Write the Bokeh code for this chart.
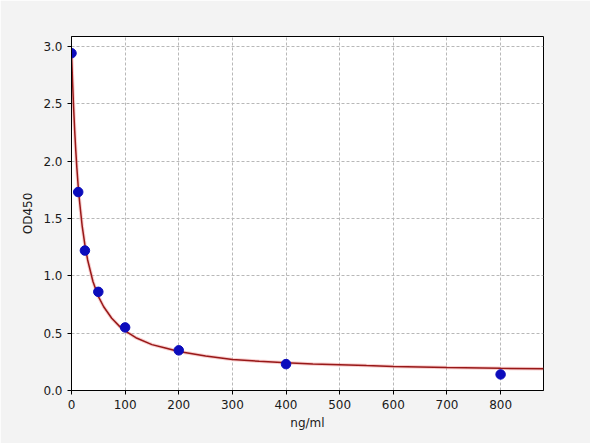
from bokeh.plotting import figure
from bokeh.embed import file_html
from bokeh.resources import INLINE
from bokeh.models import FixedTicker, NumeralTickFormatter, Range1d

# Standard points (concentration ng/ml, OD450)
conc = [0, 12.5, 25, 50, 100, 200, 400, 800]
od = [2.94, 1.73, 1.22, 0.86, 0.55, 0.35, 0.23, 0.14]

# Fitted curve
curve_x = [0, 1, 2, 4, 6, 8, 10, 12.5, 15, 20, 25, 30, 40, 50, 60, 75, 90, 100,
           120, 150, 175, 200, 250, 300, 350, 400, 450, 500, 550, 600, 700, 800, 880]
curve_y = [2.94, 2.82, 2.69, 2.46, 2.26, 2.09, 1.94, 1.78, 1.65, 1.43, 1.27, 1.14, 0.95, 0.82,
           0.73, 0.63, 0.557, 0.52, 0.46, 0.40, 0.37, 0.34, 0.30, 0.27, 0.255, 0.242, 0.232,
           0.225, 0.217, 0.21, 0.20, 0.193, 0.19]

x_ticks = [0, 100, 200, 300, 400, 500, 600, 700, 800]
y_ticks = [0.0, 0.5, 1.0, 1.5, 2.0, 2.5, 3.0]

BG = "#f3f3f3"
FONT = "DejaVu Sans"

p = figure(width=590, height=443, output_backend="svg", toolbar_location=None,
           x_range=Range1d(0, 880), y_range=Range1d(0, 3.086),
           min_border_left=71, min_border_right=47, min_border_top=36, min_border_bottom=53)
p.background_fill_color = "white"
p.border_fill_color = BG
p.outline_line_color = "black"
p.outline_line_width = 1

for ax in (p.xaxis[0], p.yaxis[0]):
    ax.axis_line_color = "black"
    ax.major_tick_line_color = "black"
    ax.major_tick_out = 4
    ax.major_tick_in = 0
    ax.minor_tick_line_color = None
    ax.major_label_text_font = FONT
    ax.major_label_text_font_size = "12px"
    ax.major_label_text_color = "#1a1a1a"
    ax.axis_label_text_font = FONT
    ax.axis_label_text_font_size = "12px"
    ax.axis_label_text_font_style = "normal"
    ax.axis_label_text_color = "#1a1a1a"

p.xaxis.ticker = FixedTicker(ticks=x_ticks)
p.yaxis.ticker = FixedTicker(ticks=y_ticks)
p.yaxis.formatter = NumeralTickFormatter(format="0.0")
p.xaxis.axis_label = "ng/ml"
p.yaxis.axis_label = "OD450"
p.xaxis.axis_label_standoff = 4
p.yaxis.axis_label_standoff = 5

p.grid.grid_line_color = "#b8b8b8"
p.grid.grid_line_dash = "3 2"
p.grid.grid_line_width = 1

p.line(curve_x, curve_y, line_color="#ee8888", line_width=3.5, line_alpha=0.4)
p.line(curve_x, curve_y, line_color="#981818", line_width=1.5)
p.scatter(conc, od, size=9.5, fill_color="#0c0cbc", line_color="#0c0cbc")

html = file_html(p, INLINE)
html = html.replace("<body>", '<body style="background:%s">' % BG, 1)
open("out.html", "w").write(html)
